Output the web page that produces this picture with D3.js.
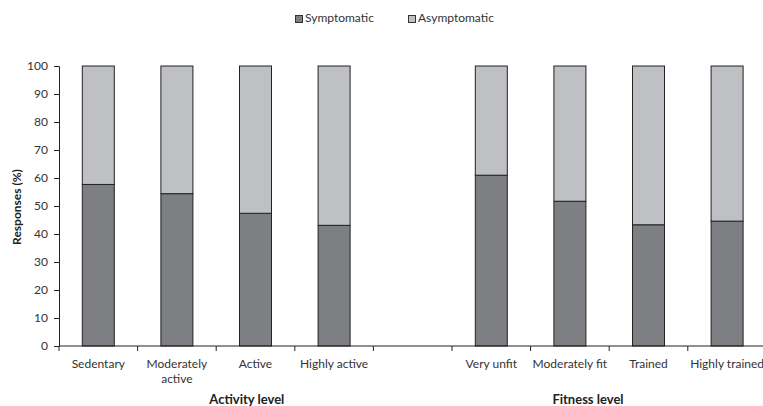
<!DOCTYPE html>
<html><head><meta charset="utf-8">
<script src="https://cdn.jsdelivr.net/npm/d3@7"></script>
<style>body{margin:0;background:#fff}svg{display:block;font-family:Lato,"Open Sans",sans-serif}</style>
</head><body><div id="chart"></div>
<script>
const categories = ["Sedentary","Moderately active","Active","Highly active","","Very unfit","Moderately fit","Trained","Highly trained"];
const symptomatic = [57.7,54.4,47.4,43.1,null,61.0,51.7,43.3,44.6];
const asymptomatic = symptomatic.map(v => v == null ? null : 100 - v);
const seriesNames = ["Symptomatic","Asymptomatic"];
const colors = ["#7e7f83","#bfc0c4"];
const yTicks = [0,10,20,30,40,50,60,70,80,90,100];
const groupTitles = ["Activity level","Fitness level"];
const groupCenters = [2.39, 6.73]; // in band units

const W = 763, H = 406;
const x0 = 59, bandW = 78.6;
const FS = 12;
const svg = d3.select("#chart").append("svg").attr("width",W).attr("height",H);
const x = d3.scaleBand().domain(d3.range(categories.length)).range([x0, x0 + bandW*categories.length]).paddingInner(0).paddingOuter(0);
const xPos = d3.scaleLinear().domain([0, categories.length]).range(x.range());
const y = d3.scaleLinear().domain([0,100]).range([346,66]);

// bars
const data = categories.map((c,i)=>({i, s:symptomatic[i], a:asymptomatic[i]})).filter(d=>d.s!=null);
const bw = 32;
const g = svg.append("g");
g.selectAll("rect.s").data(data).join("rect")
  .attr("x", d=>x(d.i)+x.bandwidth()/2-bw/2).attr("width",bw)
  .attr("y", d=>y(d.s)).attr("height", d=>y(0)-y(d.s))
  .attr("fill",colors[0]).attr("stroke","#222").attr("stroke-width",1);
g.selectAll("rect.a").data(data).join("rect")
  .attr("x", d=>x(d.i)+x.bandwidth()/2-bw/2).attr("width",bw)
  .attr("y", d=>y(100)).attr("height", d=>y(d.s)-y(100))
  .attr("fill",colors[1]).attr("stroke","#222").attr("stroke-width",1);

// y axis
const yAxis = svg.append("g").attr("transform",`translate(${x0},0)`)
  .call(d3.axisLeft(y).tickValues(yTicks).tickSize(5).tickPadding(6));
yAxis.select(".domain").attr("stroke","#222");
yAxis.selectAll(".tick line").attr("stroke","#222");
yAxis.selectAll("text").attr("font-size",FS).attr("fill","#333").attr("font-family","Lato,sans-serif");

// x axis
const xAxisG = svg.append("g").attr("transform",`translate(0,${y(0)})`);
xAxisG.append("line").attr("x1",x0).attr("x2",W).attr("y1",0).attr("y2",0).attr("stroke","#222");
const bounds = d3.range(categories.length+1).map(i=>xPos(i)).filter(v=>v<=W);
xAxisG.selectAll("line.tk").data(bounds).join("line")
  .attr("x1",d=>d).attr("x2",d=>d).attr("y1",0).attr("y2",5).attr("stroke","#222");
const labLines = {"Moderately active":["Moderately","active"]};
categories.forEach((c,i)=>{
  if(!c) return;
  const lines = labLines[c] || [c];
  const t = xAxisG.append("text").attr("x",x(i)+x.bandwidth()/2).attr("y",22)
    .attr("text-anchor","middle").attr("font-size",FS).attr("fill","#333");
  lines.forEach((l,k)=>t.append("tspan").attr("x",x(i)+x.bandwidth()/2).attr("dy",k?15:0).text(l));
});
groupTitles.forEach((gt,k)=>{
  svg.append("text").attr("x",xPos(groupCenters[k])).attr("y",404).attr("text-anchor","middle")
    .attr("font-size",13).attr("font-weight","bold").attr("fill","#222").text(gt);
});

// y label
svg.append("text").attr("transform","translate(21,207) rotate(-90)").attr("text-anchor","middle")
  .attr("font-size",FS).attr("font-weight","bold").attr("fill","#222").text("Responses (%)");

// legend
const leg = svg.append("g");
const legX = [295,408];
seriesNames.forEach((n,k)=>{
  leg.append("rect").attr("x",legX[k]+0.5).attr("y",15.5).attr("width",7).attr("height",7)
    .attr("fill",colors[k]).attr("stroke","#333").attr("stroke-width",1);
  leg.append("text").attr("x",legX[k]+10).attr("y",22).attr("font-size",FS).attr("fill","#333").text(n);
});
</script></body></html>
